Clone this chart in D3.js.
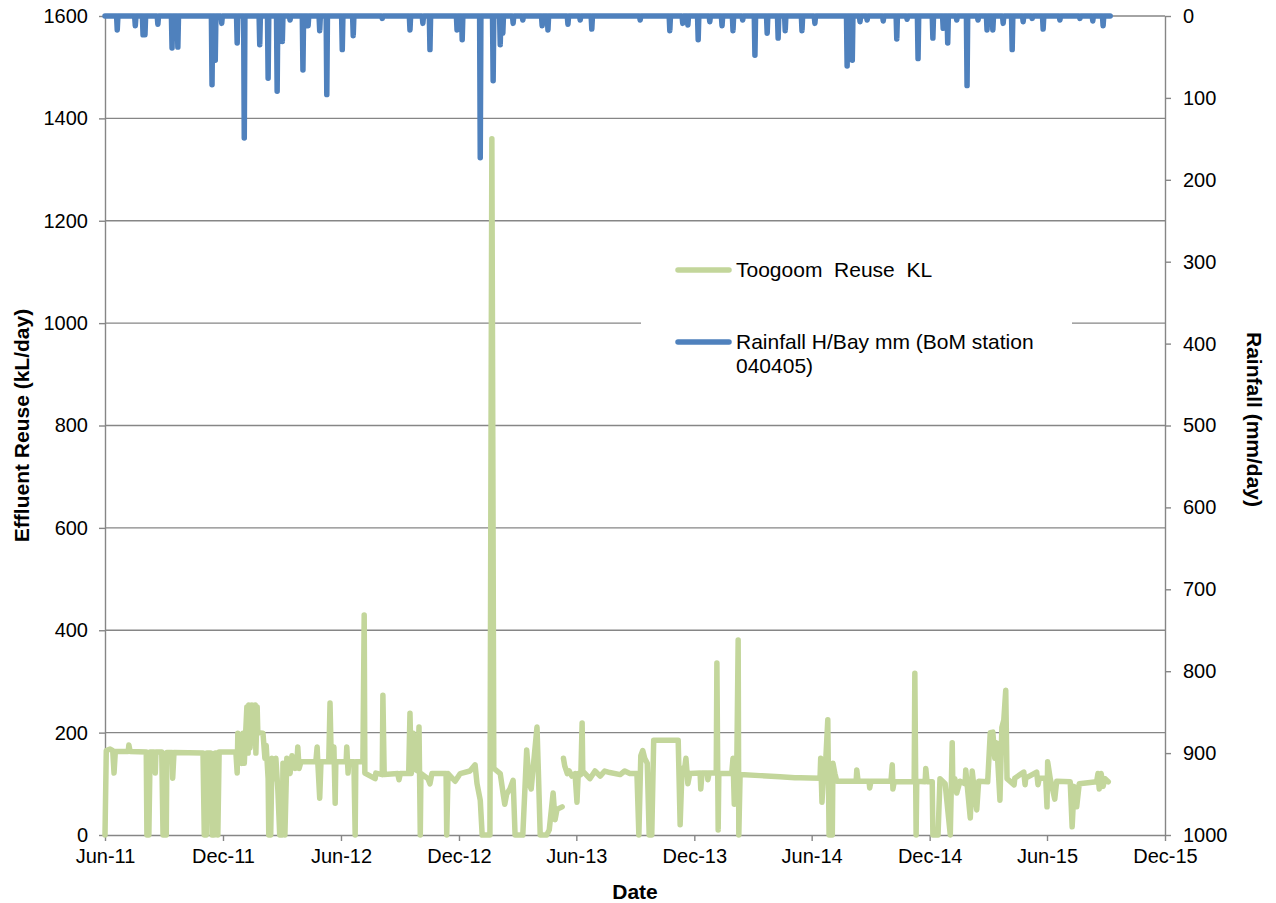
<!DOCTYPE html>
<html>
<head>
<meta charset="utf-8">
<script src="https://cdn.jsdelivr.net/npm/d3@7"></script>
<style>
  body { margin: 0; background: #fff; }
  svg { display: block; font-family: "Liberation Sans", Arial, sans-serif; }
</style>
</head>
<body>
<svg width="1276" height="903"></svg>
<script>
// Toogoom reuse, kL/day (null = gap in record)
const reuseKL = [
  ["2011-06-01", 0], ["2011-06-03", 165], ["2011-06-09", 168], ["2011-06-13", 165], ["2011-06-15", 121],
  ["2011-06-17", 163], ["2011-07-07", 163], ["2011-07-08", 176], ["2011-07-10", 163], ["2011-08-04", 162],
  ["2011-08-05", 0], ["2011-08-08", 0], ["2011-08-10", 162], ["2011-08-16", 162], ["2011-08-18", 121],
  ["2011-08-19", 162], ["2011-08-28", 162], ["2011-08-30", 0], ["2011-09-04", 0], ["2011-09-05", 161],
  ["2011-09-13", 161], ["2011-09-14", 111], ["2011-09-16", 161], ["2011-10-31", 160], ["2011-11-02", 0],
  ["2011-11-05", 0], ["2011-11-06", 160], ["2011-11-12", 160], ["2011-11-14", 0], ["2011-11-17", 0],
  ["2011-11-19", 160], ["2011-11-22", 160], ["2011-11-23", 0], ["2011-11-25", 162], ["2011-12-21", 162],
  ["2011-12-23", 121], ["2011-12-24", 199], ["2011-12-26", 150], ["2011-12-30", 140], ["2012-01-01", 199],
  ["2012-01-03", 140], ["2012-01-07", 250], ["2012-01-09", 160], ["2012-01-10", 254], ["2012-01-12", 170],
  ["2012-01-15", 254], ["2012-01-17", 180], ["2012-01-20", 254], ["2012-01-21", 160], ["2012-01-23", 250],
  ["2012-01-24", 200], ["2012-02-01", 199], ["2012-02-04", 150], ["2012-02-06", 175], ["2012-02-09", 110],
  ["2012-02-10", 0], ["2012-02-13", 0], ["2012-02-15", 150], ["2012-02-18", 110], ["2012-02-21", 150],
  ["2012-02-24", 90], ["2012-02-27", 0], ["2012-03-02", 0], ["2012-03-03", 140], ["2012-03-06", 0],
  ["2012-03-09", 150], ["2012-03-14", 120], ["2012-03-17", 155], ["2012-03-22", 130], ["2012-03-25", 150],
  ["2012-03-26", 172], ["2012-03-28", 130], ["2012-03-31", 143], ["2012-04-23", 143], ["2012-04-25", 172],
  ["2012-04-26", 143], ["2012-04-29", 72], ["2012-05-01", 143], ["2012-05-13", 143], ["2012-05-15", 258],
  ["2012-05-17", 143], ["2012-05-20", 143], ["2012-05-21", 172], ["2012-05-23", 62], ["2012-05-24", 143],
  ["2012-06-09", 143], ["2012-06-10", 172], ["2012-06-12", 121], ["2012-06-13", 143], ["2012-06-21", 143],
  ["2012-06-23", 0], ["2012-06-24", 143], ["2012-07-05", 143], ["2012-07-07", 430], ["2012-07-08", 121],
  ["2012-07-24", 110], ["2012-07-25", 121], ["2012-08-04", 118], ["2012-08-05", 273], ["2012-08-07", 118],
  ["2012-08-28", 120], ["2012-08-30", 108], ["2012-09-01", 120], ["2012-09-14", 120], ["2012-09-16", 238],
  ["2012-09-18", 120], ["2012-09-19", 130], ["2012-09-21", 199], ["2012-09-22", 130], ["2012-09-28", 125],
  ["2012-09-30", 211], ["2012-10-02", 0], ["2012-10-03", 120], ["2012-10-14", 110], ["2012-10-17", 100],
  ["2012-10-20", 120], ["2012-11-11", 120], ["2012-11-12", 0], ["2012-11-14", 120], ["2012-11-25", 105],
  ["2012-12-03", 120], ["2012-12-18", 125], ["2012-12-26", 137], ["2012-12-29", 100], ["2013-01-03", 68],
  ["2013-01-06", 0], ["2013-01-18", 0], ["2013-01-21", 1360], ["2013-01-24", 130], ["2013-02-03", 120],
  ["2013-02-07", 85], ["2013-02-10", 60], ["2013-02-13", 80], ["2013-02-18", 90], ["2013-02-23", 107],
  ["2013-02-26", 0], ["2013-03-10", 0], ["2013-03-16", 166], ["2013-03-20", 100], ["2013-03-23", 90],
  ["2013-04-01", 211], ["2013-04-03", 130], ["2013-04-06", 0], ["2013-04-16", 0], ["2013-04-20", 10],
  ["2013-04-26", 82], ["2013-04-29", 30], ["2013-05-02", 50], ["2013-05-10", 55], ["2013-05-11", null],
  ["2013-05-12", 150], ["2013-05-14", 135], ["2013-05-18", 120], ["2013-05-21", 125], ["2013-05-25", 115],
  ["2013-05-30", 120], ["2013-06-02", 64], ["2013-06-04", 120], ["2013-06-08", 118], ["2013-06-10", 219],
  ["2013-06-11", 125], ["2013-06-22", 110], ["2013-06-30", 125], ["2013-07-08", 115], ["2013-07-15", 125],
  ["2013-07-23", 122], ["2013-08-08", 118], ["2013-08-15", 125], ["2013-08-23", 120], ["2013-09-03", 120],
  ["2013-09-06", 0], ["2013-09-09", 155], ["2013-09-12", 165], ["2013-09-15", 150], ["2013-09-19", 140],
  ["2013-09-22", 0], ["2013-09-26", 0], ["2013-09-29", 185], ["2013-11-06", 185], ["2013-11-09", 20],
  ["2013-11-12", 130], ["2013-11-15", 120], ["2013-11-18", 150], ["2013-11-21", 100], ["2013-11-24", 120],
  ["2013-12-10", 121], ["2013-12-11", 90], ["2013-12-13", 121], ["2013-12-21", 121], ["2013-12-22", 108],
  ["2013-12-24", 121], ["2014-01-04", 121], ["2014-01-05", 336], ["2014-01-07", 10], ["2014-01-08", 120],
  ["2014-01-28", 120], ["2014-01-30", 150], ["2014-02-01", 60], ["2014-02-02", 140], ["2014-02-05", 150],
  ["2014-02-07", 381], ["2014-02-08", 0], ["2014-02-10", 118], ["2014-03-13", 116], ["2014-04-13", 114],
  ["2014-05-06", 112], ["2014-05-14", 112], ["2014-06-14", 111], ["2014-06-15", 150], ["2014-06-17", 64],
  ["2014-06-19", 110], ["2014-06-23", 150], ["2014-06-26", 225], ["2014-06-28", 0], ["2014-07-03", 0],
  ["2014-07-04", 140], ["2014-07-07", 120], ["2014-07-10", 105], ["2014-08-09", 105], ["2014-08-10", 127],
  ["2014-08-12", 105], ["2014-08-29", 105], ["2014-08-30", 92], ["2014-09-01", 105], ["2014-10-02", 105],
  ["2014-10-04", 137], ["2014-10-05", 90], ["2014-10-07", 104], ["2014-11-07", 104], ["2014-11-08", 316],
  ["2014-11-10", 0], ["2014-11-11", 105], ["2014-11-24", 104], ["2014-11-25", 130], ["2014-11-27", 104],
  ["2014-12-05", 104], ["2014-12-06", 0], ["2014-12-14", 0], ["2014-12-17", 110], ["2014-12-25", 100],
  ["2015-01-02", 0], ["2015-01-05", 180], ["2015-01-06", 90], ["2015-01-09", 110], ["2015-01-12", 82],
  ["2015-01-17", 105], ["2015-01-25", 100], ["2015-01-26", 127], ["2015-02-02", 33], ["2015-02-05", 125],
  ["2015-02-08", 90], ["2015-02-12", 49], ["2015-02-15", 105], ["2015-03-01", 104], ["2015-03-05", 200],
  ["2015-03-09", 201], ["2015-03-12", 150], ["2015-03-15", 180], ["2015-03-20", 68], ["2015-03-23", 210],
  ["2015-03-26", 225], ["2015-03-29", 283], ["2015-03-31", 110], ["2015-04-11", 98], ["2015-04-12", 111],
  ["2015-04-26", 123], ["2015-04-28", 98], ["2015-04-29", 111], ["2015-05-16", 123], ["2015-05-18", 98],
  ["2015-05-20", 111], ["2015-05-30", 111], ["2015-06-01", 55], ["2015-06-02", 143], ["2015-06-06", 110],
  ["2015-06-13", 70], ["2015-06-16", 105], ["2015-07-07", 104], ["2015-07-10", 16], ["2015-07-13", 95],
  ["2015-07-17", 55], ["2015-07-21", 100], ["2015-08-17", 104], ["2015-08-19", 120], ["2015-08-21", 90],
  ["2015-08-24", 120], ["2015-08-27", 95], ["2015-08-30", 110], ["2015-09-04", 104]
];

// Rainfall H/Bay, mm on the wet days (every other day of the record is 0)
const rainMm = [
  ["2011-06-20", 17], ["2011-07-18", 12], ["2011-07-30", 23], ["2011-08-02", 23], ["2011-08-22", 10],
  ["2011-09-13", 39], ["2011-09-22", 38], ["2011-11-14", 84], ["2011-11-19", 54], ["2011-11-29", 9],
  ["2011-12-23", 33], ["2012-01-03", 149], ["2012-01-27", 35], ["2012-02-09", 76], ["2012-02-23", 92],
  ["2012-03-02", 31], ["2012-03-14", 5], ["2012-04-03", 66], ["2012-04-11", 12], ["2012-04-29", 18],
  ["2012-05-10", 96], ["2012-06-03", 41], ["2012-06-20", 24], ["2012-08-04", 3], ["2012-09-16", 17],
  ["2012-10-06", 9], ["2012-10-17", 41], ["2012-11-28", 17], ["2012-12-06", 29], ["2013-01-03", 173],
  ["2013-01-23", 79], ["2013-02-03", 35], ["2013-02-07", 21], ["2013-02-23", 9], ["2013-03-10", 5],
  ["2013-04-09", 12], ["2013-04-18", 17], ["2013-05-19", 10], ["2013-06-07", 5], ["2013-06-25", 16],
  ["2013-09-08", 5], ["2013-10-24", 18], ["2013-11-13", 9], ["2013-11-21", 11], ["2013-12-07", 29],
  ["2013-12-25", 7], ["2014-01-13", 12], ["2014-01-30", 18], ["2014-02-14", 5], ["2014-03-05", 48],
  ["2014-03-24", 21], ["2014-04-10", 27], ["2014-04-21", 18], ["2014-05-17", 18], ["2014-06-06", 9],
  ["2014-07-26", 61], ["2014-08-03", 54], ["2014-08-15", 7], ["2014-08-26", 5], ["2014-09-20", 6],
  ["2014-10-11", 28], ["2014-10-27", 4], ["2014-11-13", 52], ["2014-12-06", 27], ["2014-12-22", 15],
  ["2014-12-29", 33], ["2015-01-12", 5], ["2015-01-28", 85], ["2015-02-14", 5], ["2015-02-28", 17],
  ["2015-03-09", 17], ["2015-03-25", 9], ["2015-04-08", 41], ["2015-04-25", 7], ["2015-05-09", 3],
  ["2015-05-26", 16], ["2015-06-21", 5], ["2015-07-22", 3], ["2015-08-11", 6], ["2015-08-27", 12]
];
const rainStart = "2011-06-01", rainEnd = "2015-09-07";

const xTicks = ["2011-06-01", "2011-12-01", "2012-06-01", "2012-12-01", "2013-06-01",
                "2013-12-01", "2014-06-01", "2014-12-01", "2015-06-01", "2015-12-01"];
const reuseTicks = [0, 200, 400, 600, 800, 1000, 1200, 1400, 1600];
const rainTicks = [0, 100, 200, 300, 400, 500, 600, 700, 800, 900, 1000];

const svg = d3.select("svg");
const plotLeft = 105, plotRight = 1165, plotTop = 16, plotBottom = 835;
const grey = "#868686";
const green = "#C3D69B", blue = "#4F81BD";
const parse = d3.utcParse("%Y-%m-%d");

const x = d3.scaleUtc()
  .domain([parse(xTicks[0]), parse(xTicks[xTicks.length - 1])])
  .range([plotLeft, plotRight]);
const yL = d3.scaleLinear().domain([0, 1600]).range([plotBottom, plotTop]);
const yR = d3.scaleLinear().domain([0, 1000]).range([plotTop, plotBottom]);

// gridlines
svg.append("g")
  .selectAll("line")
  .data(reuseTicks.slice(1))
  .join("line")
  .attr("x1", plotLeft).attr("x2", plotRight)
  .attr("y1", d => yL(d)).attr("y2", d => yL(d))
  .attr("stroke", grey).attr("stroke-width", 1.4);

function styleAxis(g) {
  g.select(".domain").attr("stroke", grey).attr("stroke-width", 1.4);
  g.selectAll(".tick line").attr("stroke", grey).attr("stroke-width", 1.4);
  g.selectAll(".tick text").attr("fill", "#000").style("font-size", "20px")
    .style("font-family", "'Liberation Sans', Arial, sans-serif");
}

svg.append("g")
  .attr("transform", `translate(0,${plotBottom})`)
  .call(d3.axisBottom(x).tickValues(xTicks.map(parse)).tickFormat(d3.utcFormat("%b-%y"))
    .tickSize(6).tickPadding(8).tickSizeOuter(0))
  .call(styleAxis);

svg.append("g")
  .attr("transform", `translate(${plotLeft},0)`)
  .call(d3.axisLeft(yL).tickValues(reuseTicks).tickFormat(d3.format("d"))
    .tickSize(6).tickPadding(11).tickSizeOuter(0))
  .call(styleAxis);

svg.append("g")
  .attr("transform", `translate(${plotRight},0)`)
  .call(d3.axisRight(yR).tickValues(rainTicks).tickFormat(d3.format("d"))
    .tickSize(6).tickPadding(12).tickSizeOuter(0))
  .call(styleAxis);

// reuse line
const reuseLine = d3.line()
  .defined(d => d[1] !== null)
  .x(d => x(parse(d[0])))
  .y(d => yL(d[1]));

svg.append("path")
  .datum(reuseKL)
  .attr("fill", "none")
  .attr("stroke", green)
  .attr("stroke-width", 5.5)
  .attr("stroke-linejoin", "round")
  .attr("stroke-linecap", "round")
  .attr("d", reuseLine);

// rainfall line, daily record
const wet = new Map(rainMm.map(d => [d[0], d[1]]));
const fmt = d3.utcFormat("%Y-%m-%d");
const rainDaily = d3.utcDay.range(parse(rainStart), d3.utcDay.offset(parse(rainEnd), 1))
  .map(day => [day, wet.get(fmt(day)) || 0]);

svg.append("path")
  .datum(rainDaily)
  .attr("fill", "none")
  .attr("stroke", blue)
  .attr("stroke-width", 5.5)
  .attr("stroke-linejoin", "round")
  .attr("stroke-linecap", "round")
  .attr("d", d3.line().x(d => x(d[0])).y(d => yR(d[1])));

// axis titles
svg.append("text")
  .attr("transform", `translate(29,${(plotTop + plotBottom) / 2}) rotate(-90)`)
  .attr("text-anchor", "middle")
  .style("font-size", "21px").style("font-weight", "bold")
  .text("Effluent Reuse (kL/day)");

svg.append("text")
  .attr("transform", `translate(1247,${(plotTop + plotBottom) / 2 - 6}) rotate(90)`)
  .attr("text-anchor", "middle")
  .style("font-size", "21px").style("font-weight", "bold")
  .text("Rainfall (mm/day)");

svg.append("text")
  .attr("x", (plotLeft + plotRight) / 2)
  .attr("y", 899)
  .attr("text-anchor", "middle")
  .style("font-size", "21px").style("font-weight", "bold")
  .text("Date");

// legend
const legend = svg.append("g");
legend.append("rect")
  .attr("x", 641).attr("y", 245).attr("width", 431).attr("height", 145)
  .attr("fill", "#fff");

const legendItems = [
  { color: green, lines: ["Toogoom  Reuse  KL"], y: 270 },
  { color: blue, lines: ["Rainfall H/Bay mm (BoM station", "040405)"], y: 342 }
];

legendItems.forEach(item => {
  legend.append("line")
    .attr("x1", 678).attr("x2", 729)
    .attr("y1", item.y).attr("y2", item.y)
    .attr("stroke", item.color).attr("stroke-width", 5.5)
    .attr("stroke-linecap", "round");
  const t = legend.append("text")
    .attr("x", 736).attr("y", item.y + 7)
    .style("font-size", "21px")
    .style("white-space", "pre");
  item.lines.forEach((s, i) => {
    t.append("tspan").attr("x", 736).attr("dy", i ? 24 : 0).text(s);
  });
});
</script>
</body>
</html>
